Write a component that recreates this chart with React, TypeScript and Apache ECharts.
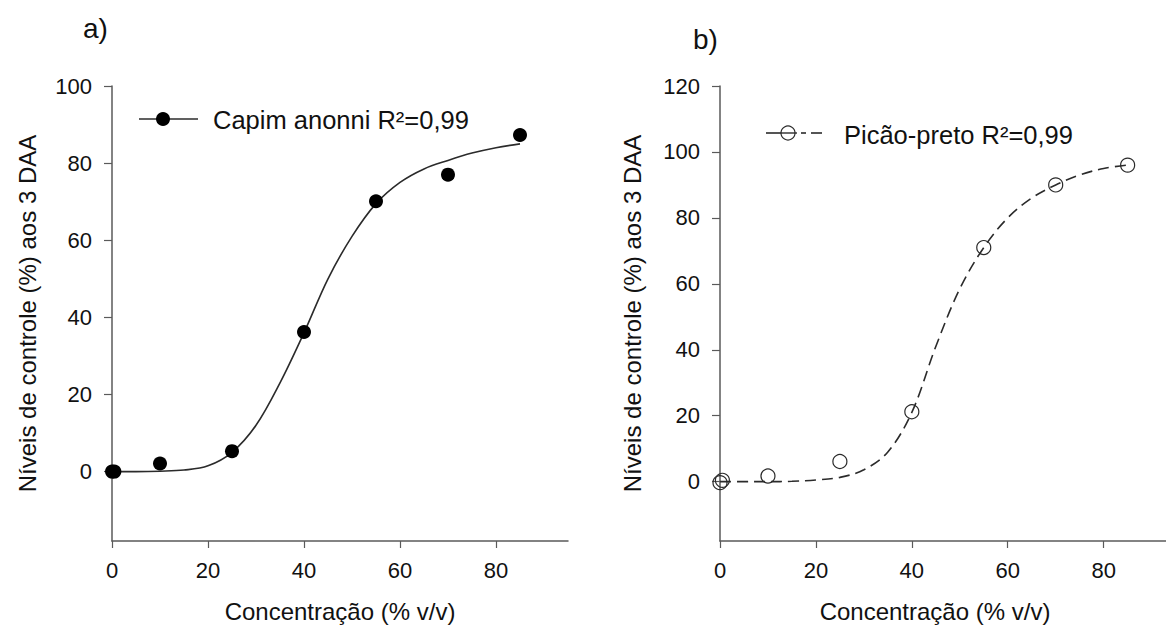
import React, { useEffect, useRef } from "react";
import * as echarts from "echarts";

// ---- Data ----
const concA = [0, 0.5, 10, 25, 40, 55, 70, 85];
const controlA = [0, 0, 2.1, 5.3, 36.2, 70.1, 77, 87.3];
const fitXA = [0, 5, 10, 15, 20, 25, 30, 35, 40, 45, 50, 55, 60, 65, 70, 75, 80, 85];
const fitYA = [0, 0, 0.1, 0.4, 1.5, 5, 12, 23, 36, 50, 61, 69.5, 75, 78.5, 80.7, 82.6, 84, 85];

const concB = [0, 0.5, 10, 25, 40, 55, 70, 85];
const controlB = [-0.3, 0.4, 1.7, 6.1, 21.2, 71, 90, 96];
const fitXB = [0, 5, 10, 15, 20, 25, 30, 35, 40, 45, 50, 55, 60, 65, 70, 75, 80, 85];
const fitYB = [0, 0, 0, 0.1, 0.5, 1.3, 3.6, 9, 21, 41, 58.5, 71, 80, 86, 90, 93, 95, 96];

const xTicks = [0, 20, 40, 60, 80];
const yTicksA = [0, 20, 40, 60, 80, 100];
const yTicksB = [0, 20, 40, 60, 80, 100, 120];

const legendA = "Capim anonni R²=0,99";
const legendB = "Picão-preto R²=0,99";
const xTitle = "Concentração (% v/v)";
const yTitle = "Níveis de controle (%) aos 3 DAA";

const FONT = "Liberation Sans, Arial, sans-serif";
const AXIS = "#5a5a5a";
const TXT = "#111111";

function zip(xs: number[], ys: number[]) {
  return xs.map((x, i) => [x, ys[i]]);
}

function xAxisCfg(gridIndex: number, max: number, padRight: number) {
  return {
    type: "value",
    gridIndex,
    min: 0,
    max,
    name: xTitle,
    nameLocation: "middle",
    nameGap: 58,
    nameTextStyle: { fontFamily: FONT, fontSize: 24, color: TXT, padding: [0, padRight, 0, 0] },
    axisLine: { show: true, onZero: false, lineStyle: { color: AXIS, width: 1.5 } },
    axisTick: { show: true, inside: false, length: 7, customValues: xTicks, lineStyle: { color: AXIS, width: 1.2 } },
    axisLabel: { show: true, margin: 18, customValues: xTicks, fontFamily: FONT, fontSize: 22, color: TXT },
    splitLine: { show: false },
  };
}

function yAxisCfg(gridIndex: number, max: number, ticks: number[], gap: number) {
  return {
    type: "value",
    gridIndex,
    min: -18,
    max,
    name: yTitle,
    nameLocation: "middle",
    nameGap: gap,
    nameTextStyle: { fontFamily: FONT, fontSize: 24, color: TXT },
    axisLine: { show: true, onZero: false, lineStyle: { color: AXIS, width: 1.5 } },
    axisTick: { show: true, inside: false, length: 8, customValues: ticks, lineStyle: { color: AXIS, width: 1.2 } },
    axisLabel: { show: true, margin: 20, customValues: ticks, fontFamily: FONT, fontSize: 22, color: TXT },
    splitLine: { show: false },
  };
}

export default function App() {
  const ref = useRef<HTMLDivElement>(null);

  useEffect(() => {
    if (!ref.current) return;
    const chart = echarts.init(ref.current, undefined, { renderer: "svg" });
    chart.setOption({
      animation: false,
      backgroundColor: "#ffffff",
      grid: [
        { left: 112, top: 86, width: 456, height: 456 },
        { left: 720, top: 86, width: 446.4, height: 456 },
      ],
      xAxis: [xAxisCfg(0, 95, 0), xAxisCfg(1, 93, 16)],
      yAxis: [yAxisCfg(0, 100, yTicksA, 73), yAxisCfg(1, 120, yTicksB, 76)],
      series: [
        {
          type: "line",
          xAxisIndex: 0,
          yAxisIndex: 0,
          data: zip(fitXA, fitYA),
          smooth: 0.35,
          symbol: "none",
          lineStyle: { color: "#2b2b2b", width: 1.6 },
          z: 2,
        },
        {
          type: "scatter",
          xAxisIndex: 0,
          yAxisIndex: 0,
          data: zip(concA, controlA),
          symbol: "circle",
          symbolSize: 14,
          itemStyle: { color: "#000000", opacity: 1 },
          z: 3,
        },
        {
          type: "line",
          xAxisIndex: 1,
          yAxisIndex: 1,
          data: zip(fitXB, fitYB),
          smooth: 0.35,
          symbol: "none",
          lineStyle: { color: "#2b2b2b", width: 1.6, type: [11, 6] },
          z: 2,
        },
        {
          type: "scatter",
          xAxisIndex: 1,
          yAxisIndex: 1,
          data: zip(concB, controlB),
          symbol: "circle",
          symbolSize: 14,
          itemStyle: { color: "rgba(255,255,255,0)", borderColor: "#2a2a2a", borderWidth: 1.2, opacity: 1 },
          z: 3,
        },
      ],
      graphic: [
        { type: "text", left: 83, top: 14, style: { text: "a)", fontFamily: FONT, fontSize: 28, fill: TXT } },
        { type: "text", left: 693, top: 25, style: { text: "b)", fontFamily: FONT, fontSize: 28, fill: TXT } },
        // legend a
        { type: "line", shape: { x1: 139, y1: 119, x2: 198, y2: 119 }, style: { stroke: "#2b2b2b", lineWidth: 1.6 } },
        { type: "circle", shape: { cx: 163, cy: 119, r: 7 }, style: { fill: "#000" } },
        {
          type: "text",
          x: 213,
          y: 120,
          style: { text: legendA, fontFamily: FONT, fontSize: 25.5, fill: TXT, verticalAlign: "middle", align: "left" },
        },
        // legend b
        { type: "line", shape: { x1: 766, y1: 133, x2: 781, y2: 133 }, style: { stroke: "#2b2b2b", lineWidth: 1.6 } },
        { type: "line", shape: { x1: 781, y1: 133, x2: 797, y2: 133 }, style: { stroke: "#2b2b2b", lineWidth: 1.4 } },
        { type: "line", shape: { x1: 801, y1: 133, x2: 806, y2: 133 }, style: { stroke: "#2b2b2b", lineWidth: 1.6 } },
        { type: "line", shape: { x1: 811, y1: 133, x2: 822, y2: 133 }, style: { stroke: "#2b2b2b", lineWidth: 1.6 } },
        { type: "circle", shape: { cx: 788, cy: 133, r: 7 }, style: { fill: "rgba(255,255,255,0)", stroke: "#2a2a2a", lineWidth: 1.2 } },
        {
          type: "text",
          x: 844,
          y: 135,
          style: { text: legendB, fontFamily: FONT, fontSize: 25.5, fill: TXT, verticalAlign: "middle", align: "left" },
        },
      ],
    });
    return () => chart.dispose();
  }, []);

  return (
    <div
      ref={ref}
      style={{ position: "absolute", left: 0, top: 0, width: 1166, height: 628, background: "#fff" }}
    />
  );
}
